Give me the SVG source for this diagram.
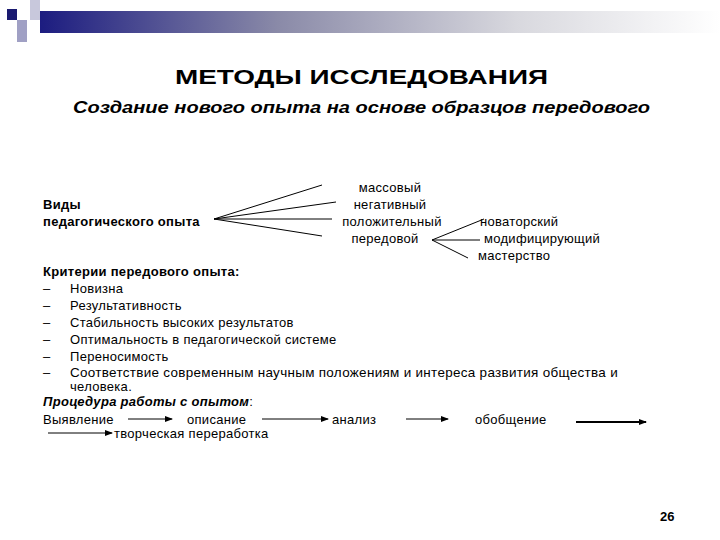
<svg xmlns="http://www.w3.org/2000/svg" width="720" height="540" viewBox="0 0 720 540">
<defs>
<linearGradient id="bar" x1="0" x2="1" y1="0" y2="0"><stop offset="0" stop-color="#1c1c80"/><stop offset="0.35" stop-color="#8a8aa8"/><stop offset="0.7" stop-color="#d8d8de"/><stop offset="1" stop-color="#ffffff"/></linearGradient>
<marker id="ah" markerWidth="8" markerHeight="6" refX="7" refY="3" orient="auto" markerUnits="userSpaceOnUse"><path d="M0,0L8,3L0,6z" fill="#000"/></marker>
<style>text{font-family:"Liberation Sans",Arial,sans-serif;fill:#000}.s{font-size:13px;letter-spacing:0.3px}.b{font-weight:bold}line{stroke:#000;stroke-width:1}.a{marker-end:url(#ah)}</style>
</defs>
<rect width="720" height="540" fill="#fff"/>
<rect x="40" y="11" width="680" height="22" fill="url(#bar)"/>
<rect x="7" y="9" width="10" height="11" fill="#1a1a70"/>
<rect x="30" y="0" width="10" height="20" fill="#c8c8dc"/>
<rect x="17" y="20" width="10" height="22" fill="#a0a0c4"/>
<text x="175" y="84" font-size="21" class="b" textLength="373" lengthAdjust="spacingAndGlyphs">МЕТОДЫ ИССЛЕДОВАНИЯ</text>
<text x="73" y="113" font-size="17" class="b" font-style="italic" textLength="577" lengthAdjust="spacingAndGlyphs">Создание нового опыта на основе образцов передового</text>
<g id="types"><text x="43" y="209" class="s b">Виды</text><text x="43" y="226" class="s b">педагогического опыта</text></g>
<g id="leaves">
<text x="390" y="192" text-anchor="middle" class="s">массовый</text>
<text x="390" y="209" text-anchor="middle" class="s">негативный</text>
<text x="392" y="226" text-anchor="middle" class="s">положительный</text>
<text x="385" y="243" text-anchor="middle" class="s">передовой</text>
<text x="480" y="226" class="s">новаторский</text>
<text x="484" y="243" class="s">модифицирующий</text>
<text x="478" y="260" class="s">мастерство</text>
</g>
<g id="connectors">
<line x1="214" y1="219" x2="322" y2="185"/>
<line x1="214" y1="219" x2="336" y2="202"/>
<line x1="214" y1="219" x2="332" y2="219"/>
<line x1="214" y1="219" x2="322" y2="236"/>
<line x1="432" y1="240" x2="484" y2="219"/>
<line x1="432" y1="240" x2="480" y2="240"/>
<line x1="432" y1="240" x2="468" y2="258"/>
<line class="a" x1="128" y1="419" x2="172" y2="419"/>
<line class="a" x1="262" y1="419" x2="328" y2="419"/>
<line class="a" x1="406" y1="419" x2="448" y2="419"/>
<line class="a" x1="576" y1="422" x2="646" y2="422" style="stroke-width:2"/>
<line class="a" x1="48" y1="433" x2="112" y2="433"/>
</g>
<g id="criteria">
<text x="43" y="276" class="s b">Критерии передового опыта:</text>
<text x="43" y="293" class="s">–</text><text x="70" y="293" class="s">Новизна</text>
<text x="43" y="310" class="s">–</text><text x="70" y="310" class="s">Результативность</text>
<text x="43" y="327" class="s">–</text><text x="70" y="327" class="s">Стабильность высоких результатов</text>
<text x="43" y="344" class="s">–</text><text x="70" y="344" class="s">Оптимальность в педагогической системе</text>
<text x="43" y="361" class="s">–</text><text x="70" y="361" class="s">Переносимость</text>
<text x="43" y="377" class="s">–</text><text x="70" y="377" class="s" textLength="548" lengthAdjust="spacingAndGlyphs">Соответствие современным научным положениям и интереса развития общества и</text>
<text x="70" y="391" class="s">человека.</text>
</g>
<g id="procedure">
<text x="43" y="406" class="s b" font-style="italic">Процедура работы с опытом<tspan font-weight="normal" font-style="normal">:</tspan></text>
<text x="43" y="424" class="s">Выявление</text>
<text x="187" y="424" class="s">описание</text>
<text x="332" y="424" class="s">анализ</text>
<text x="475" y="424" class="s">обобщение</text>
<text x="114" y="438" class="s">творческая переработка</text>
</g>
<text x="660" y="521" font-size="13" class="b">26</text>
</svg>
